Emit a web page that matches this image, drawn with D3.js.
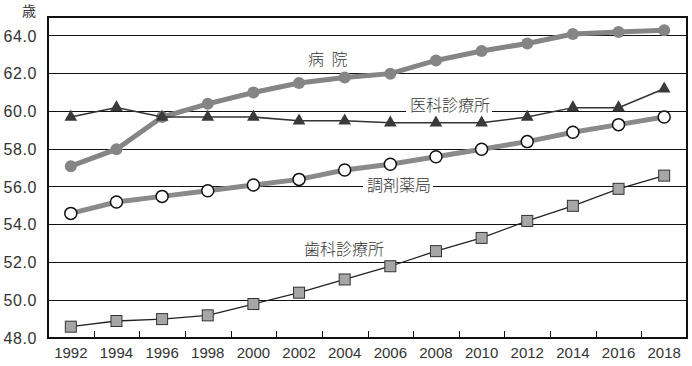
<!DOCTYPE html>
<html>
<head>
<meta charset="utf-8">
<script src="https://cdn.jsdelivr.net/npm/d3@7"></script>
<style>
  html, body { margin: 0; padding: 0; background: #fff; }
  svg { display: block; }
</style>
</head>
<body>
<svg id="chart" width="692" height="366"></svg>
<script>
const years = [1992,1994,1996,1998,2000,2002,2004,2006,2008,2010,2012,2014,2016,2018];
const hospital = [57.1,58.0,59.7,60.4,61.0,61.5,61.8,62.0,62.7,63.2,63.6,64.1,64.2,64.3];
const clinic = [59.7,60.2,59.7,59.7,59.7,59.5,59.5,59.4,59.4,59.4,59.7,60.2,60.2,61.2];
const pharmacy = [54.6,55.2,55.5,55.8,56.1,56.4,56.9,57.2,57.6,58.0,58.4,58.9,59.3,59.7];
const dental = [48.6,48.9,49.0,49.2,49.8,50.4,51.1,51.8,52.6,53.3,54.2,55.0,55.9,56.6];
const yTicks = [48,50,52,54,56,58,60,62,64];
const unitLabel = "歳";
const seriesNames = ["病 院", "医科診療所", "調剤薬局", "歯科診療所"];

const svg = d3.select("#chart");
const L = 48, R = 687, T = 17, B = 338;
const x = d3.scaleBand().domain(years).range([L, R]);
const y = d3.scaleLinear().domain([48, 65]).range([B, T]);
const cx = d => x(d) + x.bandwidth() / 2;

// gridlines
svg.append("g").selectAll("line").data(yTicks.filter(t => t > 48)).join("line")
  .attr("x1", L).attr("x2", R).attr("y1", d => y(d)).attr("y2", d => y(d))
  .attr("stroke", "#111").attr("stroke-width", 1).attr("shape-rendering", "crispEdges");

// frame
svg.append("rect").attr("x", L).attr("y", T).attr("width", R - L).attr("height", B - T)
  .attr("fill", "none").attr("stroke", "#111").attr("stroke-width", 1.3).attr("shape-rendering", "crispEdges");

// y axis labels
const yAxis = d3.axisLeft(y).tickValues(yTicks).tickFormat(d => d.toFixed(1)).tickSize(0).tickPadding(11);
const gy = svg.append("g").attr("transform", `translate(${L},0)`).call(yAxis);
gy.select(".domain").remove();
gy.selectAll("text").attr("font-family", "Liberation Sans, Arial, sans-serif").attr("font-size", 16)
  .attr("fill", "#333").attr("letter-spacing", "0.6px");

// x axis labels
const xAxis = d3.axisBottom(x).tickSize(0).tickPadding(9);
const gx = svg.append("g").attr("transform", `translate(0,${B})`).call(xAxis);
gx.select(".domain").remove();
gx.selectAll("text").attr("font-family", "Liberation Sans, Arial, sans-serif").attr("font-size", 15).attr("fill", "#333");

// inner ticks at band boundaries
svg.append("g").selectAll("line").data(years.slice(1)).join("line")
  .attr("x1", d => Math.round(x(d)) + 0.5).attr("x2", d => Math.round(x(d)) + 0.5)
  .attr("y1", B).attr("y2", B - 7).attr("stroke", "#111").attr("stroke-width", 1);

// unit label
svg.append("text").attr("x", 29).attr("y", 16).attr("text-anchor", "middle")
  .attr("font-family", "Noto Sans CJK JP").attr("font-size", 14).attr("fill", "#333").text(unitLabel);

// series labels with white background
function label(text, px, py, bg) {
  const g = svg.append("g");
  const t = g.append("text").attr("x", px).attr("y", py)
    .attr("font-family", "Noto Sans CJK JP").attr("font-size", 16).attr("font-weight", 300)
    .attr("fill", "#333").attr("word-spacing", "4px").text(text);
  if (bg) {
    const bb = t.node().getBBox();
    g.insert("rect", "text").attr("x", bb.x - 4).attr("y", bb.y + 2).attr("width", bb.width + 6).attr("height", bb.height - 4).attr("fill", "#fff");
  }
}
label(seriesNames[0], 308, 65, false);
label(seriesNames[1], 410, 111, true);
label(seriesNames[2], 367, 191, true);
label(seriesNames[3], 304, 255, false);

const line = d3.line().x((d, i) => cx(years[i])).y(d => y(d));

// hospital
svg.append("path").datum(hospital).attr("d", line).attr("fill", "none")
  .attr("stroke", "#858585").attr("stroke-width", 5);
svg.append("g").selectAll("circle").data(hospital).join("circle")
  .attr("cx", (d, i) => cx(years[i])).attr("cy", d => y(d)).attr("r", 6).attr("fill", "#858585");

// clinic
svg.append("path").datum(clinic).attr("d", line).attr("fill", "none")
  .attr("stroke", "#333").attr("stroke-width", 1.5);
svg.append("g").selectAll("path").data(clinic).join("path")
  .attr("transform", (d, i) => `translate(${cx(years[i])},${y(d)})`)
  .attr("d", d3.symbol(d3.symbolTriangle, 70)).attr("fill", "#3a3a3a");

// pharmacy
svg.append("path").datum(pharmacy).attr("d", line).attr("fill", "none")
  .attr("stroke", "#8a8a8a").attr("stroke-width", 5);
svg.append("g").selectAll("circle").data(pharmacy).join("circle")
  .attr("cx", (d, i) => cx(years[i])).attr("cy", d => y(d)).attr("r", 6)
  .attr("fill", "#fff").attr("stroke", "#111").attr("stroke-width", 1.5);

// dental
svg.append("path").datum(dental).attr("d", line).attr("fill", "none")
  .attr("stroke", "#222").attr("stroke-width", 1.3);
svg.append("g").selectAll("rect").data(dental).join("rect")
  .attr("x", (d, i) => cx(years[i]) - 5.5).attr("y", d => y(d) - 5.5).attr("width", 11).attr("height", 11)
  .attr("fill", "#a6a6a6").attr("stroke", "#333").attr("stroke-width", 1);
</script>
</body>
</html>
